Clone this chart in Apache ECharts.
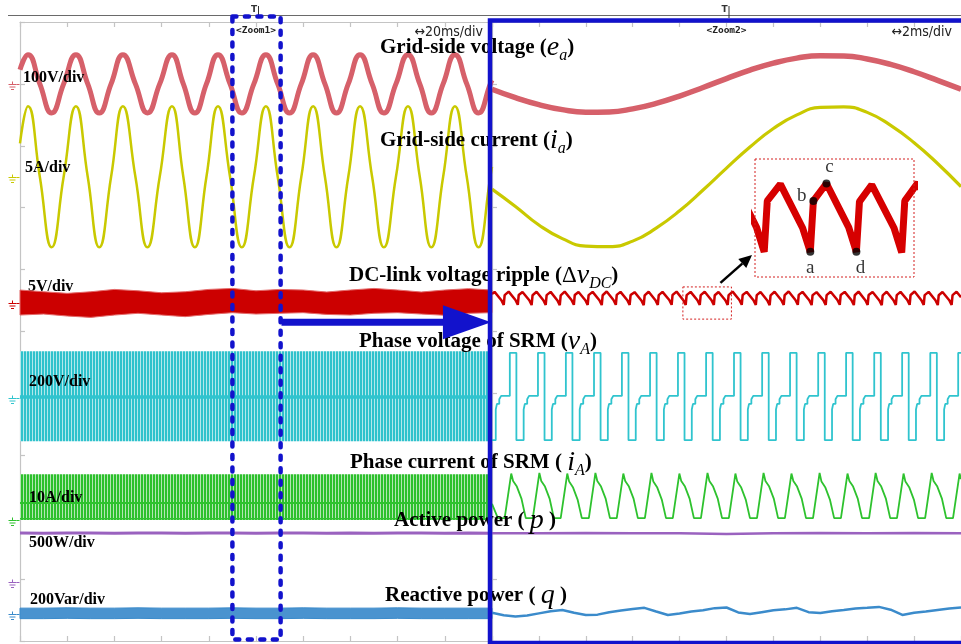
<!DOCTYPE html>
<html>
<head>
<meta charset="utf-8">
<title>Grid-connected SRM drive waveforms</title>
<script src="https://cdn.jsdelivr.net/npm/echarts@6/dist/echarts.min.js"></script>
<style>
  html, body { margin: 0; padding: 0; background: #ffffff; }
  #scope { width: 961px; height: 644px; }
</style>
</head>
<body>
<div id="scope"></div>
<script>
// ================= Waveform data (time in ms, physical units) =================

// Main window, 20 ms/div: grid-side voltage (V) and current (A),
// taken at peaks, troughs and zero crossings
const mainSineT = [0, 3.4, 8.4, 13.4, 18.5, 23.7, 28.7, 33.6, 38.6, 43.6, 48.9, 54.0, 59.2, 64.4,
  69.2, 74.1, 79.0, 83.9, 89.0, 94.0, 99.1, 104.2, 109.2, 114.2, 119.2, 124.2, 129.2, 134.1,
  139.1, 144.1, 149.2, 154.2, 159.3, 164.4, 169.4, 174.3, 179.3, 184.3, 189.3, 194.3, 199.3, 200];
const eaMain = [23, 47, 0, -47, 0, 47, 0, -47, 0, 47, 0, -47, 0, 47, 0, -47, 0, 47, 0, -47, 0,
  47, 0, -47, 0, 47, 0, -47, 0, 47, 0, -47, 0, 47, 0, -47, 0, 47, 0, -47, 0, 6];
const iaMain = [2.7, 5.7, 0, -5.7, 0, 5.7, 0, -5.7, 0, 5.7, 0, -5.7, 0, 5.7, 0, -5.7, 0, 5.7, 0, -5.7, 0,
  5.7, 0, -5.7, 0, 5.7, 0, -5.7, 0, 5.7, 0, -5.7, 0, 5.7, 0, -5.7, 0, 5.7, 0, -5.7, 0, 0.8];

// Main window envelopes of the fast channels, every 10 ms
const envT = [0, 10, 20, 30, 40, 50, 60, 70, 80, 90, 100, 110, 120, 130, 140, 150, 160, 170, 180, 190, 200];
const dvMainTop = [1.05, 0.91, 0.78, 0.91, 1.10, 0.99, 0.83, 0.91, 1.10, 1.18, 0.99, 1.10, 1.05, 0.89, 1.05, 1.18, 1.05, 0.89, 1.05, 1.16, 1.05];
const dvMainBottom = [-0.97, -0.89, -1.05, -1.16, -0.97, -0.83, -0.97, -1.10, -0.92, -0.78, -0.89, -0.83, -0.78, -0.92, -0.97, -0.83, -0.78, -0.89, -0.99, -0.83, -0.78];
const vAMainTop = [150, 150, 150, 150, 150, 150, 150, 150, 150, 150, 150, 150, 150, 150, 150, 150, 150, 150, 150, 150, 150];
const vAMainMid = [2, 2, 2, 2, 2, 2, 2, 2, 2, 2, 2, 2, 2, 2, 2, 2, 2, 2, 2, 2, 2];
const vAMainBottom = [-141, -141, -141, -141, -141, -141, -141, -141, -141, -141, -141, -141, -141, -141, -141, -141, -141, -141, -141, -141, -141];
const iAMainTop = [7.4, 7.4, 7.4, 7.4, 7.4, 7.4, 7.4, 7.4, 7.4, 7.4, 7.4, 7.4, 7.4, 7.4, 7.4, 7.4, 7.4, 7.4, 7.4, 7.4, 7.4];
const iAMainMid = [2.75, 2.75, 2.75, 2.75, 2.75, 2.75, 2.75, 2.75, 2.75, 2.75, 2.75, 2.75, 2.75, 2.75, 2.75, 2.75, 2.75, 2.75, 2.75, 2.75, 2.75];
const iAMainBase = [0.2, 0.2, 0.2, 0.2, 0.2, 0.2, 0.2, 0.2, 0.2, 0.2, 0.2, 0.2, 0.2, 0.2, 0.2, 0.2, 0.2, 0.2, 0.2, 0.2, 0.2];
const iAMainBottom = [0, 0, 0, 0, 0, 0, 0, 0, 0, 0, 0, 0, 0, 0, 0, 0, 0, 0, 0, 0, 0];
const pMain = [395, 394, 396, 395, 394, 396, 395, 393, 395, 396, 394, 395, 396, 394, 395, 393, 395, 396, 394, 395, 394];
const qMainTop = [19, 19, 20, 19, 19, 20, 19, 19, 19, 20, 19, 19, 20, 19, 19, 19, 20, 19, 19, 19, 19];
const qMainBottom = [-15, -15, -14, -15, -15, -14, -15, -15, -15, -14, -15, -15, -14, -15, -15, -15, -14, -15, -15, -15, -15];

// Zoom window, 90-110 ms at 2 ms/div
const zoomT = [90, 91, 92, 93, 94, 95, 96, 97, 98, 99, 100, 101, 102, 103, 104, 105, 106, 107, 108, 109, 110];
const eaZoom = [-8.6, -22.2, -33.5, -41.6, -45.6, -45.2, -40.3, -31.5, -19.6, -5.8, 8.6, 22.2, 33.5, 41.6, 45.6, 45.2, 40.3, 31.5, 19.6, 5.8, -8.6];
const iaZoom = [-1.0, -2.4, -3.9, -5.0, -5.6, -5.65, -5.2, -4.15, -2.75, -1.07, 0.7, 2.4, 3.9, 5.0, 5.6, 5.65, 5.2, 4.15, 2.75, 1.07, -0.8];

// DC-link voltage ripple [t, V]
const dvZoom = [
  [90.00, 0.73],
  [90.11, 0.90], [90.40, 0.23], [90.50, -0.15], [90.54, 0.64],
  [90.71, 0.92], [91.00, 0.24], [91.10, -0.14], [91.14, 0.65],
  [91.30, 0.89], [91.59, 0.22], [91.69, -0.16], [91.73, 0.63],
  [91.90, 0.91], [92.19, 0.23], [92.29, -0.15], [92.33, 0.64],
  [92.50, 0.90], [92.79, 0.21], [92.89, -0.17], [92.93, 0.62],
  [93.10, 0.92], [93.39, 0.24], [93.49, -0.14], [93.53, 0.65],
  [93.69, 0.89], [93.98, 0.23], [94.08, -0.15], [94.12, 0.64],
  [94.29, 0.90], [94.58, 0.22], [94.68, -0.16], [94.72, 0.63],
  [94.89, 0.93], [95.18, 0.24], [95.28, -0.14], [95.32, 0.66],
  [95.48, 0.90], [95.77, 0.23], [95.87, -0.15], [95.91, 0.64],
  [96.08, 0.88], [96.37, 0.21], [96.47, -0.17], [96.51, 0.62],
  [96.68, 0.91], [96.97, 0.23], [97.07, -0.15], [97.11, 0.64],
  [97.27, 0.90], [97.56, 0.24], [97.66, -0.14], [97.70, 0.65],
  [97.87, 0.92], [98.16, 0.23], [98.26, -0.15], [98.30, 0.64],
  [98.47, 0.90], [98.76, 0.22], [98.86, -0.15], [98.90, 0.64],
  [99.07, 0.91], [99.36, 0.23], [99.46, -0.15], [99.50, 0.63],
  [99.66, 0.89], [99.95, 0.22], [100.05, -0.16], [100.09, 0.64],
  [100.26, 0.92], [100.55, 0.24], [100.65, -0.14], [100.69, 0.65],
  [100.86, 0.90], [101.15, 0.23], [101.25, -0.15], [101.29, 0.64],
  [101.45, 0.89], [101.74, 0.21], [101.84, -0.17], [101.88, 0.62],
  [102.05, 0.91], [102.34, 0.23], [102.44, -0.15], [102.48, 0.64],
  [102.65, 0.93], [102.94, 0.24], [103.04, -0.14], [103.08, 0.66],
  [103.24, 0.90], [103.53, 0.22], [103.63, -0.16], [103.67, 0.63],
  [103.84, 0.88], [104.13, 0.23], [104.23, -0.15], [104.27, 0.64],
  [104.44, 0.91], [104.73, 0.24], [104.83, -0.14], [104.87, 0.65],
  [105.04, 0.90], [105.33, 0.22], [105.43, -0.16], [105.47, 0.63],
  [105.63, 0.92], [105.92, 0.23], [106.02, -0.15], [106.06, 0.64],
  [106.23, 0.89], [106.52, 0.21], [106.62, -0.17], [106.66, 0.62],
  [106.83, 0.91], [107.12, 0.23], [107.22, -0.15], [107.26, 0.64],
  [107.42, 0.90], [107.71, 0.24], [107.81, -0.14], [107.85, 0.65],
  [108.02, 0.93], [108.31, 0.23], [108.41, -0.15], [108.45, 0.64],
  [108.62, 0.90], [108.91, 0.22], [109.01, -0.16], [109.05, 0.63],
  [109.21, 0.89], [109.50, 0.23], [109.60, -0.15], [109.64, 0.64],
  [109.81, 0.91], [110.00, 0.47]
];

// SRM phase voltage [t, V]; each level holds from its time until the next point
const vAZoom = [
  [90.00, -137], [90.16, -38], [90.21, -20], [90.31, -5], [90.39, 6],
  [90.76, 145], [91.04, -137], [91.35, -38], [91.40, -20], [91.50, -5], [91.58, 6],
  [91.96, 145], [92.24, -137], [92.55, -38], [92.60, -20], [92.70, -5], [92.78, 6],
  [93.15, 145], [93.43, -137], [93.74, -38], [93.79, -20], [93.89, -5], [93.97, 6],
  [94.35, 145], [94.63, -137], [94.94, -38], [94.99, -20], [95.09, -5], [95.17, 6],
  [95.54, 145], [95.82, -137], [96.13, -38], [96.18, -20], [96.28, -5], [96.36, 6],
  [96.74, 145], [97.02, -137], [97.33, -38], [97.38, -20], [97.48, -5], [97.56, 6],
  [97.93, 145], [98.21, -137], [98.52, -38], [98.57, -20], [98.67, -5], [98.75, 6],
  [99.13, 145], [99.41, -137], [99.72, -38], [99.77, -20], [99.87, -5], [99.95, 6],
  [100.32, 145], [100.60, -137], [100.91, -38], [100.96, -20], [101.06, -5], [101.14, 6],
  [101.52, 145], [101.80, -137], [102.11, -38], [102.16, -20], [102.26, -5], [102.34, 6],
  [102.71, 145], [102.99, -137], [103.30, -38], [103.35, -20], [103.45, -5], [103.53, 6],
  [103.91, 145], [104.19, -137], [104.50, -38], [104.55, -20], [104.65, -5], [104.73, 6],
  [105.10, 145], [105.38, -137], [105.69, -38], [105.74, -20], [105.84, -5], [105.92, 6],
  [106.30, 145], [106.58, -137], [106.89, -38], [106.94, -20], [107.04, -5], [107.12, 6],
  [107.49, 145], [107.77, -137], [108.08, -38], [108.13, -20], [108.23, -5], [108.31, 6],
  [108.69, 145], [108.97, -137], [109.28, -38], [109.33, -20], [109.43, -5], [109.51, 6],
  [109.88, 145], [110.00, 145]
];

// SRM phase current [t, A]
const iAZoom = [
  [90.00, 2.6], [90.25, 0.3],
  [90.54, 0.3], [90.82, 7.5], [90.90, 6.3], [90.96, 6.6], [91.06, 5.4], [91.26, 3.4], [91.44, 0.3],
  [91.74, 0.3], [92.02, 7.6], [92.10, 6.3], [92.16, 6.6], [92.26, 5.4], [92.46, 3.4], [92.64, 0.3],
  [92.93, 0.3], [93.21, 7.5], [93.29, 6.2], [93.35, 6.5], [93.45, 5.3], [93.65, 3.3], [93.83, 0.3],
  [94.13, 0.3], [94.41, 7.6], [94.49, 6.3], [94.55, 6.6], [94.65, 5.4], [94.85, 3.4], [95.03, 0.3],
  [95.32, 0.3], [95.60, 7.5], [95.68, 6.3], [95.74, 6.6], [95.84, 5.4], [96.04, 3.4], [96.22, 0.3],
  [96.52, 0.3], [96.80, 7.6], [96.88, 6.2], [96.94, 6.5], [97.04, 5.3], [97.24, 3.3], [97.42, 0.3],
  [97.71, 0.3], [97.99, 7.5], [98.07, 6.3], [98.13, 6.6], [98.23, 5.4], [98.43, 3.4], [98.61, 0.3],
  [98.91, 0.3], [99.19, 7.6], [99.27, 6.3], [99.33, 6.6], [99.43, 5.4], [99.63, 3.4], [99.81, 0.3],
  [100.10, 0.3], [100.38, 7.5], [100.46, 6.2], [100.52, 6.5], [100.62, 5.3], [100.82, 3.3], [101.00, 0.3],
  [101.30, 0.3], [101.58, 7.6], [101.66, 6.3], [101.72, 6.6], [101.82, 5.4], [102.02, 3.4], [102.20, 0.3],
  [102.49, 0.3], [102.77, 7.5], [102.85, 6.3], [102.91, 6.6], [103.01, 5.4], [103.21, 3.4], [103.39, 0.3],
  [103.69, 0.3], [103.97, 7.6], [104.05, 6.2], [104.11, 6.5], [104.21, 5.3], [104.41, 3.3], [104.59, 0.3],
  [104.88, 0.3], [105.16, 7.5], [105.24, 6.3], [105.30, 6.6], [105.40, 5.4], [105.60, 3.4], [105.78, 0.3],
  [106.08, 0.3], [106.36, 7.6], [106.44, 6.3], [106.50, 6.6], [106.60, 5.4], [106.80, 3.4], [106.98, 0.3],
  [107.27, 0.3], [107.55, 7.5], [107.63, 6.2], [107.69, 6.5], [107.79, 5.3], [107.99, 3.3], [108.17, 0.3],
  [108.47, 0.3], [108.75, 7.6], [108.83, 6.3], [108.89, 6.6], [108.99, 5.4], [109.19, 3.4], [109.37, 0.3],
  [109.66, 0.3], [109.94, 7.5], [110.00, 6.6]
];

// Active power (W) and reactive power (var) in the zoom window
const pZoomT = [90, 92, 94, 96, 98, 100, 102, 104, 106, 108, 110];
const pZoom = [394, 393, 395, 394, 393, 388, 393, 395, 394, 395, 394];
const qZoomT = [90, 90.5, 91, 91.5, 92, 92.5, 93, 93.5, 94, 94.5, 95, 95.5, 96, 96.5, 97, 97.5,
  98, 98.5, 99, 99.5, 100, 100.5, 101, 101.5, 102, 102.5, 103, 103.5, 104, 104.5, 105, 105.5,
  106, 106.5, 107, 107.5, 108, 108.5, 109, 109.5, 110];
const qZoom = [4, -4, -8, -5, 2, 9, 13, 4, -3, -2, 6, 11, 16, 20, 8, -3, 2, 8, 12, 19, 21,
  5, 0, 6, 12, 15, 20, 6, 3, 9, 13, 18, 20, 23, 14, -3, 4, 8, 13, 18, 21];

// Marked instants on the ripple: [label, t (ms), V]
const rippleMarks = [['a', 98.86, -0.15], ['b', 98.90, 0.64], ['c', 99.07, 0.91], ['d', 99.46, -0.15]];

// Channel scale texts
const scaleLabels = ['100V/div', '5A/div', '5V/div', '200V/div', '10A/div', '500W/div', '200Var/div'];

// ================= Scope channel settings =================
// volts/amps per division, ground level (divisions above the bottom edge), trace colour
const CH = {
  ea: { perDiv: 100, ground: 9.0,   color: '#d6606a' },
  ia: { perDiv: 5,   ground: 7.5,   color: '#c9c900' },
  dv: { perDiv: 5,   ground: 5.46,  color: '#cc0000' },
  vA: { perDiv: 200, ground: 3.93,  color: '#30c4ce' },
  iA: { perDiv: 10,  ground: 1.955, color: '#2ec22e' },
  p:  { perDiv: 500, ground: 0.953, color: '#9a62bf' },
  q:  { perDiv: 200, ground: 0.436, color: '#3b8bcb' }
};
const toDiv = (ch, v) => CH[ch].ground + v / CH[ch].perDiv;
const zipDiv = (ch, ts, vs) => ts.map((t, i) => [t, toDiv(ch, vs[i])]);
const ptsDiv = (ch, pts) => pts.map(p => [p[0], toDiv(ch, p[1])]);

const SERIF = "'Liberation Serif','Times New Roman',serif";
const AXIS_GRAY = '#c4c4c4';
const BLUE = '#1212cc';

function stripes(c1, c2) {
  const cv = document.createElement('canvas');
  cv.width = 3; cv.height = 8;
  const g = cv.getContext('2d');
  g.fillStyle = c2; g.fillRect(0, 0, 3, 8);
  g.fillStyle = c1; g.fillRect(0, 0, 2, 8);
  return { image: cv, repeat: 'repeat' };
}

function xAx(gridIndex, min, max, interval, position) {
  return {
    type: 'value', gridIndex, min, max, interval, position,
    axisLine: { show: true, onZero: false, lineStyle: { color: AXIS_GRAY, width: 1.2 } },
    axisTick: { show: true, inside: true, length: 5, lineStyle: { color: AXIS_GRAY, width: 1.2 } },
    axisLabel: { show: false }, splitLine: { show: false }
  };
}
function yAx(gridIndex) {
  return {
    type: 'value', gridIndex, min: 0, max: 10, interval: 1,
    axisLine: { show: true, onZero: false, lineStyle: { color: AXIS_GRAY, width: 1.2 } },
    axisTick: { show: true, inside: true, length: 5, lineStyle: { color: AXIS_GRAY, width: 1.2 } },
    axisLabel: { show: false }, splitLine: { show: false }
  };
}

// one trace on the main (grid 0) or zoom (grid 1) screen
function trace(grid, ch, data, width, extra) {
  return Object.assign({
    type: 'line', xAxisIndex: grid === 0 ? 0 : 2, yAxisIndex: grid,
    data, symbol: 'none', silent: true,
    lineStyle: { color: CH[ch].color, width }
  }, extra || {});
}

// filled envelope between two value lists
function band(grid, ch, ts, top, bottom, style) {
  return {
    type: 'custom', xAxisIndex: grid === 0 ? 0 : 2, yAxisIndex: grid, silent: true,
    data: [[ts[0], toDiv(ch, top[0])]],
    renderItem(params, api) {
      const pts = ts.map((t, i) => api.coord([t, toDiv(ch, top[i])]));
      for (let i = ts.length - 1; i >= 0; i--) pts.push(api.coord([ts[i], toDiv(ch, bottom[i])]));
      return { type: 'polygon', shape: { points: pts }, style: Object.assign({}, style) };
    }
  };
}

const chart = echarts.init(document.getElementById('scope'));

const markLayout = [
  { position: 'bottom', offset: [0, 0] },
  { position: 'left', offset: [0, -5] },
  { position: 'top', offset: [3, 0] },
  { position: 'bottom', offset: [4, 0] }
];

chart.setOption({
  animation: false,
  backgroundColor: '#ffffff',
  grid: [
    { left: 20, top: 22, width: 472, height: 619 },
    { left: 492, top: 22, width: 472, height: 619 },
    { left: 755, top: 159, width: 159, height: 118 }
  ],
  xAxis: [
    xAx(0, 0, 200, 20, 'bottom'),
    xAx(0, 0, 200, 20, 'top'),
    xAx(1, 90, 110, 2, 'bottom'),
    xAx(1, 90, 110, 2, 'top'),
    { type: 'value', gridIndex: 2, min: 98.14, max: 100.21, show: false }
  ],
  yAxis: [
    yAx(0),
    yAx(1),
    { type: 'value', gridIndex: 2, min: -0.54, max: 1.29, show: false }
  ],
  series: [
    // ---- main screen, 20 ms/div ----
    band(0, 'dv', envT, dvMainTop, dvMainBottom, { fill: '#cc0000', stroke: '#e46a6a', lineWidth: 1 }),
    band(0, 'vA', envT, vAMainTop, vAMainBottom, { fill: stripes('#2fc2cc', '#b2e8ec') }),
    trace(0, 'vA', zipDiv('vA', envT, vAMainMid), 3.5),
    band(0, 'iA', envT, iAMainTop, iAMainBottom, { fill: stripes('#2cc02c', '#b2e6b2') }),
    trace(0, 'iA', zipDiv('iA', envT, iAMainMid), 2),
    trace(0, 'iA', zipDiv('iA', envT, iAMainBase), 1.5),
    trace(0, 'p', zipDiv('p', envT, pMain), 3),
    band(0, 'q', envT, qMainTop, qMainBottom, { fill: '#4a93cf', stroke: '#3b8bcb', lineWidth: 1 }),
    trace(0, 'ea', zipDiv('ea', mainSineT, eaMain), 5, { smooth: 0.5 }),
    trace(0, 'ia', zipDiv('ia', mainSineT, iaMain), 2.5, { smooth: 0.5 }),

    // ---- zoom screen, 2 ms/div ----
    trace(1, 'ea', zipDiv('ea', zoomT, eaZoom), 5.5, { smooth: 0.5 }),
    trace(1, 'ia', zipDiv('ia', zoomT, iaZoom), 3.2, { smooth: 0.5 }),
    trace(1, 'dv', ptsDiv('dv', dvZoom), 2.5),
    trace(1, 'vA', ptsDiv('vA', vAZoom), 1.8, { step: 'end' }),
    trace(1, 'iA', ptsDiv('iA', iAZoom), 1.8),
    trace(1, 'p', zipDiv('p', pZoomT, pZoom), 2.5),
    trace(1, 'q', zipDiv('q', qZoomT, qZoom), 2.5),

    // ---- magnified ripple ----
    {
      type: 'line', xAxisIndex: 4, yAxisIndex: 2, data: dvZoom, symbol: 'none', silent: true,
      lineStyle: { color: '#d60000', width: 7, join: 'bevel', cap: 'butt' }, z: 4
    },
    {
      type: 'scatter', xAxisIndex: 4, yAxisIndex: 2, symbolSize: 8, silent: true, z: 6,
      itemStyle: { color: '#000000' },
      data: rippleMarks.map((m, i) => ({
        name: m[0], value: [m[1], m[2]],
        label: { show: true, position: markLayout[i].position, offset: markLayout[i].offset }
      })),
      label: { show: true, formatter: '{b}', color: '#000', fontFamily: SERIF, fontSize: 19, distance: 3 }
    }
  ]
});

// ================= annotations =================
function overlay() {
  const P = (g, x, y) => chart.convertToPixel({ gridIndex: g }, [x, y]);
  const els = [];
  const seg = (x1, y1, x2, y2, stroke, lineWidth, z, extra) =>
    els.push(Object.assign({ type: 'line', z, silent: true, shape: { x1, y1, x2, y2 },
      style: { stroke, lineWidth } }, extra || {}));
  const text = (x, y, str, font, z, extra) =>
    els.push({ type: 'text', z, silent: true,
      style: Object.assign({ text: str, x, y, font, fill: '#000', align: 'left', verticalAlign: 'middle' }, extra || {}) });

  // scope header rule
  seg(8, 15.5, 961, 15.5, '#6a6a6a', 1.2, 20);

  // trigger marks, zoom tags, timebases
  [[0, '<Zoom1>', '\u219420ms/div', 200], [1, '<Zoom2>', '\u21942ms/div', 110]].forEach(([g, tag, tb, tEnd]) => {
    const tx = P(g, 100, 10)[0];
    text(tx - 2, 10, 'T', 'bold 9px "DejaVu Sans", sans-serif', 20, { align: 'center', fill: '#333' });
    seg(tx + 2.5, 6, tx + 2.5, 18, '#333', 1, 20);
    text(tx, 31, tag, 'bold 9.5px "DejaVu Sans Mono", monospace', 20, { align: 'center', fill: '#222' });
    text(P(g, tEnd, 10)[0] - 9, 32, tb, '14px "DejaVu Sans Condensed", "DejaVu Sans", sans-serif', 20,
      { align: 'right', fill: '#222' });
  });

  // ground markers
  Object.keys(CH).forEach(k => {
    const y = Math.round(P(0, 0, CH[k].ground)[1]) + 0.5;
    const c = CH[k].color;
    seg(8.5, y, 16.5, y, c, 1, 20);
    seg(12.5, y - 3, 12.5, y, c, 1, 20);
    seg(9.5, y + 2.5, 15.5, y + 2.5, c, 1, 20);
    seg(11, y + 5, 14, y + 5, c, 1, 20);
    seg(16.5, y, 19.5, y, c, 1, 20);
  });

  // channel scale texts
  const scaleAt = [[23, 78], [25, 168], [28, 287], [29, 382], [29, 498], [29, 543], [30, 600]];
  scaleLabels.forEach((s, i) => {
    text(scaleAt[i][0], scaleAt[i][1], s, 'bold 16px ' + SERIF, s === '5V/div' ? 1 : 30);
  });

  // channel titles
  const rich = {
    b: { fontFamily: SERIF, fontWeight: 'bold', fontSize: 21, lineHeight: 32, verticalAlign: 'middle', fill: '#000' },
    v: { fontFamily: SERIF, fontStyle: 'italic', fontWeight: 'normal', fontSize: 28, lineHeight: 32, verticalAlign: 'middle', fill: '#000' },
    d: { fontFamily: SERIF, fontWeight: 'normal', fontSize: 23, lineHeight: 32, verticalAlign: 'middle', fill: '#000' },
    s: { fontFamily: SERIF, fontStyle: 'italic', fontWeight: 'normal', fontSize: 16, lineHeight: 16, verticalAlign: 'bottom', fill: '#000' }
  };
  const titles = [
    [380, 48, '{b|Grid-side voltage (}{v|e}{s|a}{b|)}'],
    [380, 141, '{b|Grid-side current (}{v|i}{s|a}{b|)}'],
    [349, 276, '{b|DC-link voltage ripple (}{d|\u0394}{v|v}{s|DC}{b|)}'],
    [359, 342, '{b|Phase voltage of SRM (}{v|v}{s|A}{b|)}'],
    [350, 463, '{b|Phase current of SRM ( }{v|i}{s|A}{b|)}'],
    [394, 521, '{b|Active power ( }{v|p}{b| )}'],
    [385, 596, '{b|Reactive power ( }{v|q}{b| )}']
  ];
  titles.forEach(([x, y, s]) => {
    els.push({ type: 'text', z: 30, silent: true,
      style: { text: s, x, y, rich, align: 'left', verticalAlign: 'middle', font: 'bold 21px ' + SERIF, fill: '#000' } });
  });

  // solid frame around the zoom screen
  const z0 = P(1, 90, 10), z1 = P(1, 110, 0);
  els.push({ type: 'rect', z: 40, silent: true,
    shape: { x: z0[0] - 2, y: z0[1] - 1.5, width: z1[0] - z0[0] + 6, height: z1[1] - z0[1] + 3.5 },
    style: { fill: 'none', stroke: BLUE, lineWidth: 4.5 } });

  // dashed window on the main screen (90-110 ms)
  const w0 = P(0, 90, 10), w1 = P(0, 110, 0);
  els.push({ type: 'rect', z: 40, silent: true,
    shape: { x: w0[0], y: w0[1] - 5.5, width: w1[0] - w0[0] + 1, height: w1[1] - w0[1] + 4 },
    style: { fill: 'none', stroke: BLUE, lineWidth: 4.5, lineDash: [4, 8.5], lineCap: 'round' } });

  // arrow from the window to the zoom screen
  const a0 = P(0, 110.8, 5.15), a1 = P(0, 179.2, 5.15), a2 = P(0, 199.6, 5.15);
  seg(a0[0], a0[1], a1[0] + 2, a1[1], BLUE, 7, 40);
  els.push({ type: 'polygon', z: 40, silent: true,
    shape: { points: [[a1[0], a1[1] - 17], [a2[0], a2[1]], [a1[0], a1[1] + 17]] },
    style: { fill: BLUE } });

  // dotted box on the ripple and the magnified view
  const b0 = P(1, 98.14, toDiv('dv', 1.3)), b1 = P(1, 100.21, toDiv('dv', -1.3));
  els.push({ type: 'rect', z: 35, silent: true,
    shape: { x: b0[0], y: b0[1], width: b1[0] - b0[0], height: b1[1] - b0[1] },
    style: { fill: 'none', stroke: '#d42020', lineWidth: 1, lineDash: [2, 2] } });
  const i0 = chart.convertToPixel({ xAxisIndex: 4, yAxisIndex: 2 }, [98.14, 1.29]);
  const i1 = chart.convertToPixel({ xAxisIndex: 4, yAxisIndex: 2 }, [100.21, -0.54]);
  els.push({ type: 'rect', z: 35, silent: true,
    shape: { x: i0[0], y: i0[1], width: i1[0] - i0[0], height: i1[1] - i0[1] },
    style: { fill: 'none', stroke: '#d42020', lineWidth: 1, lineDash: [2, 2] } });

  // black pointer from the box to the magnified view
  const s0 = [b1[0] - 11, b0[1] - 4], s1 = [i0[0] - 3, i1[1] - 22];
  const ang = Math.atan2(s1[1] - s0[1], s1[0] - s0[0]);
  const hl = 13, hw = 6;
  const base = [s1[0] - hl * Math.cos(ang), s1[1] - hl * Math.sin(ang)];
  seg(s0[0], s0[1], base[0], base[1], '#000', 2.5, 35);
  els.push({ type: 'polygon', z: 35, silent: true,
    shape: { points: [s1,
      [base[0] + hw * Math.sin(ang), base[1] - hw * Math.cos(ang)],
      [base[0] - hw * Math.sin(ang), base[1] + hw * Math.cos(ang)]] },
    style: { fill: '#000' } });

  chart.setOption({ graphic: els });
}
overlay();
</script>
</body>
</html>
